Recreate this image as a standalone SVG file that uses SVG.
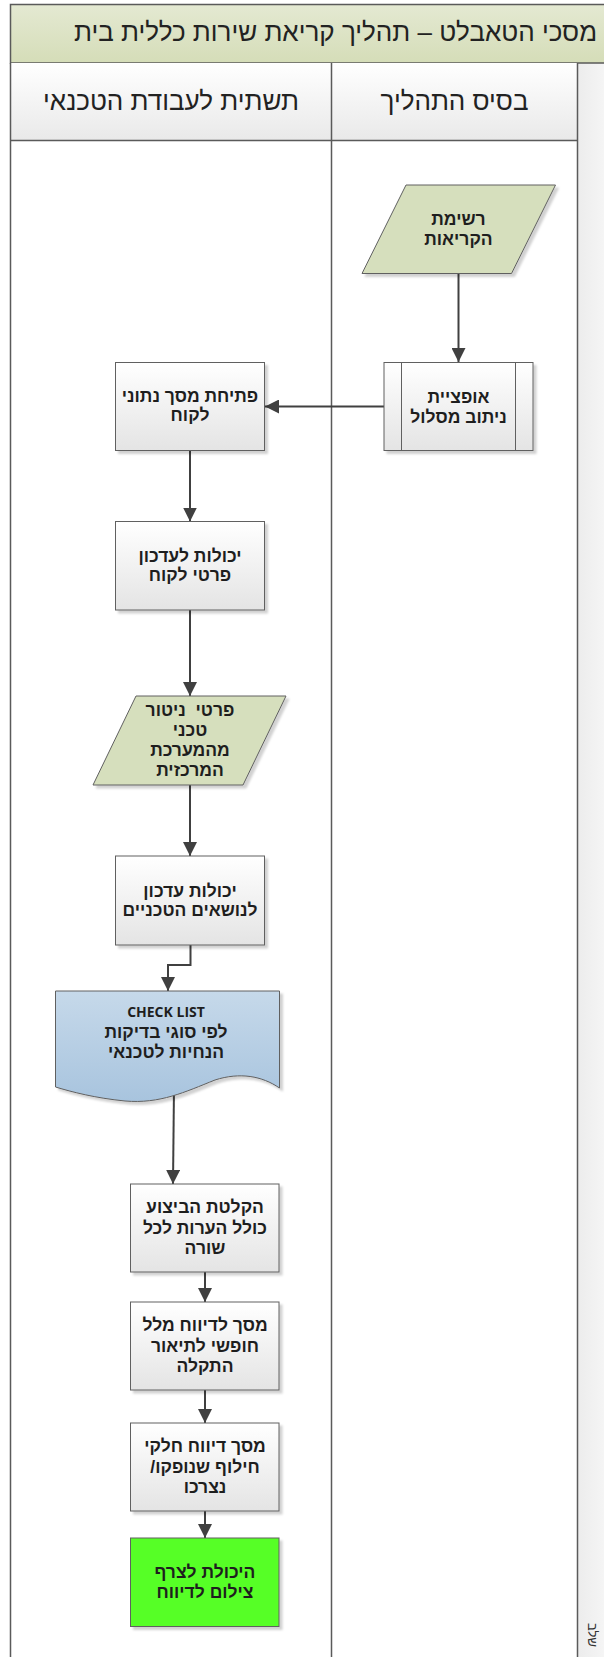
<svg xmlns="http://www.w3.org/2000/svg" width="604" height="1657" viewBox="0 0 604 1657">
<defs>
<linearGradient id="gTitle" x1="0" y1="0" x2="0" y2="1"><stop offset="0" stop-color="#e4e9d2"/><stop offset="1" stop-color="#d5ddb8"/></linearGradient>
<linearGradient id="gHead" x1="0" y1="0" x2="0" y2="1"><stop offset="0" stop-color="#ffffff"/><stop offset="1" stop-color="#e9e9e9"/></linearGradient>
<linearGradient id="gBox" x1="0" y1="0" x2="0" y2="1"><stop offset="0" stop-color="#ffffff"/><stop offset="1" stop-color="#e4e4e4"/></linearGradient>
<linearGradient id="gDoc" x1="0" y1="0" x2="0" y2="1"><stop offset="0" stop-color="#c6d9ea"/><stop offset="1" stop-color="#a8c4de"/></linearGradient>
<linearGradient id="gSide" x1="0" y1="0" x2="1" y2="0"><stop offset="0" stop-color="#ececec"/><stop offset="1" stop-color="#f6f6f6"/></linearGradient>
<filter id="sh" x="-10%" y="-10%" width="130%" height="130%"><feDropShadow dx="3" dy="3" stdDeviation="1" flood-color="#000" flood-opacity="0.18"/></filter>
<marker id="ah" markerUnits="userSpaceOnUse" markerWidth="14" markerHeight="14" refX="14" refY="7" orient="auto"><path d="M0,0 L14,7 L0,14 z" fill="#404040"/></marker>
<style>
.lane{stroke:#5a5a5a;stroke-width:1.5;fill:none}
.box{fill:url(#gBox);stroke:#606060;stroke-width:1;filter:url(#sh)}
.para{fill:#d6dfbd;stroke:#606060;stroke-width:1;filter:url(#sh)}
.doc{fill:url(#gDoc);stroke:#606060;stroke-width:1;filter:url(#sh)}
.green{fill:#57ff25;stroke:#606060;stroke-width:1;filter:url(#sh)}
.t{font-family:"Liberation Sans","DejaVu Sans",sans-serif;font-weight:bold;font-size:17.5px;fill:#1e1e1e;text-anchor:middle;direction:rtl}
.h{font-family:"Liberation Sans","DejaVu Sans",sans-serif;font-size:26px;fill:#222;text-anchor:middle;direction:rtl}
.c{stroke:#404040;stroke-width:2;fill:none;marker-end:url(#ah)}
</style>
</defs>
<g id="lanes">
<rect x="577.5" y="63" width="30" height="1600" fill="url(#gSide)"/>
<rect x="10.5" y="4.5" width="600" height="58.5" fill="url(#gTitle)" stroke="#5a5a5a" stroke-width="1.5"/>
<text class="h" x="597" y="41" style="text-anchor:start">מסכי הטאבלט – תהליך קריאת שירות כללית בית</text>
<rect x="10.5" y="63" width="321" height="77.5" fill="url(#gHead)"/>
<rect x="331.5" y="63" width="246" height="77.5" fill="url(#gHead)"/>
<text class="h" x="171" y="110">תשתית לעבודת הטכנאי</text>
<text class="h" x="454.5" y="110">בסיס התהליך</text>
<line class="lane" x1="10.5" y1="140.5" x2="577.5" y2="140.5"/>
<line class="lane" x1="10.5" y1="63" x2="10.5" y2="1657"/>
<line class="lane" x1="331.5" y1="63" x2="331.5" y2="1657"/>
<line class="lane" x1="577.5" y1="63" x2="577.5" y2="1657"/>
<text font-family="Liberation Sans, DejaVu Sans, sans-serif" font-size="13" fill="#333" text-anchor="middle" transform="translate(588,1635) rotate(90)">שלב</text>
</g>
<g id="connectors">
<path class="c" d="M458.5,273.5 L458.5,362"/>
<path class="c" d="M384,406.5 L265,406.5"/>
<path class="c" d="M190,451 L190,521.5"/>
<path class="c" d="M190,610 L190,696"/>
<path class="c" d="M190,785 L190,856"/>
<path class="c" d="M190.5,945 L190.5,965 L168,965 L168,991"/>
<path class="c" d="M174,1087 L173,1184"/>
<path class="c" d="M205,1272 L205,1302"/>
<path class="c" d="M205,1390 L205,1423"/>
<path class="c" d="M205,1511 L205,1538"/>
</g>
<g id="n_list">
<polygon class="para" points="406,185 555.5,185 511.5,273.5 362,273.5"/>
<text class="t" x="458.5" y="225">רשימת</text>
<text class="t" x="458.5" y="245">הקריאות</text>
</g>
<g id="n_route">
<rect class="box" x="384" y="362.5" width="149" height="88"/>
<line x1="401.5" y1="362.5" x2="401.5" y2="450.5" stroke="#606060"/>
<line x1="515.5" y1="362.5" x2="515.5" y2="450.5" stroke="#606060"/>
<text class="t" x="458.5" y="403">אופציית</text>
<text class="t" x="458.5" y="423">ניתוב מסלול</text>
</g>
<g id="n_open">
<rect class="box" x="115.5" y="362.5" width="149" height="88"/>
<text class="t" x="190" y="402">פתיחת מסך נתוני</text>
<text class="t" x="190" y="421">לקוח</text>
</g>
<g id="n_upd">
<rect class="box" x="115.5" y="521.5" width="149" height="88.5"/>
<text class="t" x="190" y="562">יכולות לעדכון</text>
<text class="t" x="190" y="581">פרטי לקוח</text>
</g>
<g id="n_mon">
<polygon class="para" points="136,696 286,696 243,785 93,785"/>
<text class="t" x="190" y="716" xml:space="preserve">פרטי  ניטור</text>
<text class="t" x="190" y="736">טכני</text>
<text class="t" x="190" y="756">מהמערכת</text>
<text class="t" x="190" y="776">המרכזית</text>
</g>
<g id="n_tech">
<rect class="box" x="115.5" y="856" width="149" height="89"/>
<text class="t" x="190" y="897">יכולות עדכון</text>
<text class="t" x="190" y="916">לנושאים הטכניים</text>
</g>
<g id="n_check">
<path class="doc" d="M55.5,991 L279.5,991 L279.5,1088 C262,1076 240,1072 215,1080 C185,1092 160,1104 125,1101 C95,1098 72,1092 55.5,1087 Z"/>
<text x="166" y="1017" font-family="Open Sans, Lato, sans-serif" font-weight="bold" font-size="14" fill="#1e1e1e" text-anchor="middle">CHECK LIST</text>
<text class="t" x="166" y="1038">לפי סוגי בדיקות</text>
<text class="t" x="166" y="1058">הנחיות לטכנאי</text>
</g>
<g id="n_rec">
<rect class="box" x="130.5" y="1184" width="148.5" height="88"/>
<text class="t" x="205" y="1213">הקלטת הביצוע</text>
<text class="t" x="205" y="1234">כולל הערות לכל</text>
<text class="t" x="205" y="1254">שורה</text>
</g>
<g id="n_free">
<rect class="box" x="130.5" y="1302" width="148.5" height="88"/>
<text class="t" x="205" y="1331">מסך לדיווח מלל</text>
<text class="t" x="205" y="1352">חופשי לתיאור</text>
<text class="t" x="205" y="1372">התקלה</text>
</g>
<g id="n_parts">
<rect class="box" x="130.5" y="1423" width="148.5" height="88"/>
<text class="t" x="205" y="1452">מסך דיווח חלקי</text>
<text class="t" x="205" y="1473">חילוף שנופקו/</text>
<text class="t" x="205" y="1493">נצרכו</text>
</g>
<g id="n_photo">
<rect class="green" x="130.5" y="1538" width="148.5" height="88.5"/>
<text class="t" x="205" y="1578">היכולת לצרף</text>
<text class="t" x="205" y="1598">צילום לדיווח</text>
</g>
</svg>
